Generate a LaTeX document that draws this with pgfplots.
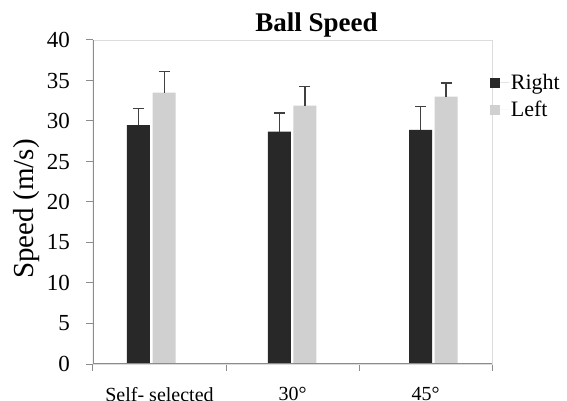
\documentclass[border=0pt]{standalone}
\usepackage{fontspec}
\setmainfont{Liberation Serif}
\usepackage{pgfplots}
\pgfplotsset{compat=1.18}
\definecolor{darkbar}{HTML}{282828}
\definecolor{lightbar}{HTML}{D0D0D0}
\definecolor{axgray}{HTML}{8C8C8C}
\definecolor{boxgray}{HTML}{DCDCDC}
\begin{document}
\begin{tikzpicture}
\begin{axis}[
  at={(93bp,37bp)}, anchor=south west,
  scale only axis, width=399bp, height=324bp,
  xmin=0, xmax=3, ymin=0, ymax=40,
  axis line style={boxgray, line width=0.8bp},
  xtick={0,1,2,3},
  xticklabels={Self- selected,30°,45°},
  x tick label as interval,
  ytick={0,5,...,40},
  tick align=outside,
  xtick pos=bottom, ytick pos=left,
  major tick length=6.5bp,
  tick style={axgray, line width=1bp},
  /pgf/number format/assume math mode=true,
  yticklabel style={font=\fontsize{23bp}{25bp}\selectfont, xshift=-13bp},
  xticklabel style={font=\fontsize{20bp}{22bp}\selectfont, yshift=-13bp},
  legend style={at={(rel axis cs:0.988,0.905)}, anchor=north west, draw=none, fill=none,
    font=\fontsize{22bp}{24bp}\selectfont, row sep=7bp,
    nodes={inner sep=1.5bp, anchor=west}},
  legend cell align=left,
  legend image code/.code={\fill[#1] (0bp,-4.8bp) rectangle (9.5bp,4.8bp); \path (0bp,0bp) -- (19bp,0bp);},
  error bars/y dir=plus, error bars/y explicit,
  error bars/error bar style={line width=1.3bp, color=black!75},
  error bars/error mark options={rotate=90, mark size=5.5bp, line width=1.3bp, color=black!75},
]
\addplot[ybar, bar width=23bp, bar shift=0bp, fill=darkbar, draw=none]
  coordinates {(0.341,29.5) +- (0,2.0) (1.402,28.7) +- (0,2.3) (2.464,28.9) +- (0,2.9)};
\addlegendentry{Right}
\addplot[ybar, bar width=23bp, bar shift=0bp, fill=lightbar, draw=none]
  coordinates {(0.535,33.5) +- (0,2.6) (1.593,31.9) +- (0,2.35) (2.655,33.0) +- (0,1.7)};
\addlegendentry{Left}
\draw[axgray, line width=1.2bp] (rel axis cs:0,1) -- (rel axis cs:0,0) -- (rel axis cs:1,0);
\end{axis}
\node[font=\bfseries\fontsize{27bp}{29bp}\selectfont, anchor=base] at (316.5bp,369.5bp) {Ball Speed};
\node[font=\fontsize{29bp}{31bp}\selectfont, anchor=base, rotate=90] at (33bp,192bp) {Speed (m/s)};
\pgfresetboundingbox
\path (0,0) rectangle (567bp,401bp);
\end{tikzpicture}
\end{document}
